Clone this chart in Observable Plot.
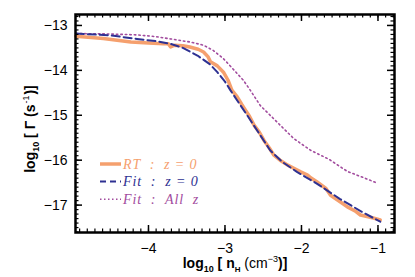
<!DOCTYPE html>
<html><head><meta charset="utf-8">
<script src="https://cdn.jsdelivr.net/npm/d3@7"></script>
<script src="https://cdn.jsdelivr.net/npm/@observablehq/plot@0.6"></script>
<style>body{margin:0;background:#fff}</style>
</head><body><div id="chart"></div>
<script>
// RT : z = 0 (orange)
const rtX = [-4.95,-4.59,-4.23,-4.0,-3.80,-3.74,-3.71,-3.66,-3.55,-3.46,-3.35,-3.28,-3.22,-3.19,-3.10,-3.02,-2.96,-2.91,-2.84,-2.78,-2.73,-2.68,-2.62,-2.55,-2.49,-2.42,-2.36,-2.28,-2.18,-2.10,-2.01,-1.92,-1.88,-1.80,-1.68,-1.62,-1.50,-1.40,-1.30,-1.23,-1.10,-0.97];
const rtY = [-13.24,-13.29,-13.37,-13.39,-13.41,-13.41,-13.48,-13.44,-13.45,-13.48,-13.53,-13.59,-13.70,-13.81,-13.90,-14.04,-14.22,-14.44,-14.59,-14.76,-14.89,-15.02,-15.22,-15.38,-15.56,-15.73,-15.89,-16.00,-16.11,-16.18,-16.26,-16.33,-16.39,-16.48,-16.63,-16.78,-16.92,-17.04,-17.13,-17.22,-17.27,-17.33];
// Fit : z = 0 (blue dashed)
const fitX = [-4.95,-4.5,-4.15,-3.9,-3.71,-3.55,-3.36,-3.20,-3.10,-3.00,-2.93,-2.84,-2.71,-2.54,-2.41,-2.25,-2.06,-1.80,-1.50,-1.20,-0.97];
const fitY = [-13.18,-13.22,-13.30,-13.35,-13.41,-13.50,-13.67,-13.86,-14.04,-14.25,-14.44,-14.67,-15.00,-15.44,-15.78,-16.04,-16.26,-16.52,-16.86,-17.16,-17.37];
// Fit : All z (purple dotted)
const allX = [-4.95,-4.5,-4.15,-3.9,-3.71,-3.45,-3.28,-3.15,-3.02,-2.90,-2.76,-2.67,-2.54,-2.32,-2.10,-1.88,-1.64,-1.40,-1.20,-1.01];
const allY = [-13.18,-13.19,-13.21,-13.25,-13.30,-13.37,-13.44,-13.56,-13.74,-13.96,-14.22,-14.44,-14.78,-15.15,-15.52,-15.78,-15.98,-16.25,-16.38,-16.51];

const xTicks = [-4,-3,-2,-1];
const yTicks = [-17,-16,-15,-14,-13];
const legendLabels = ["RT  :  z = 0", "Fit  :  z = 0", "Fit  :  All  z"];
const colors = ["#f5a06e", "#2e3192", "#a24c9e"];

const W = 415, H = 277, mL = 75, mR = 21, mT = 14, mB = 45;
const pH = H - mT - mB, pW = W - mL - mR;
const xMinor = d3.range(-49, -7).map(i => i / 10);
const yMinor = d3.range(-176, -127).map(i => i / 10);
const fmt = d => String(d).replace("-", "\u2212");

const zip = (xs, ys) => xs.map((x, i) => ({x, y: ys[i]}));
const rt = zip(rtX, rtY), fit = zip(fitX, fitY), all = zip(allX, allY);

const tk = (data, len, sw) => [
  Plot.ruleX(data, {x: d => d, insetTop: pH - len, stroke: "black", strokeWidth: sw}),
  Plot.ruleX(data, {x: d => d, insetBottom: pH - len, stroke: "black", strokeWidth: sw})
];
const tky = (data, len, sw) => [
  Plot.ruleY(data, {y: d => d, insetRight: pW - len, stroke: "black", strokeWidth: sw}),
  Plot.ruleY(data, {y: d => d, insetLeft: pW - len, stroke: "black", strokeWidth: sw})
];

const plot = Plot.plot({
  width: W, height: H,
  marginLeft: mL, marginRight: mR, marginTop: mT, marginBottom: mB,
  style: {fontFamily: "'Liberation Sans', Arial, sans-serif", fontSize: "14px", background: "white"},
  x: {domain: [-4.954, -0.784], label: null},
  y: {domain: [-17.61, -12.756], label: null},
  marks: [
    Plot.line(all, {x: "x", y: "y", stroke: colors[2], strokeWidth: 1.6, strokeDasharray: "1.5,3"}),
    Plot.line(rt, {x: "x", y: "y", stroke: colors[0], strokeWidth: 3.5, strokeLinejoin: "round"}),
    Plot.line(fit, {x: "x", y: "y", stroke: colors[1], strokeWidth: 2, strokeDasharray: "8,4"}),
    ...tk(xMinor, 3.5, 1.2), ...tk(xTicks, 7, 1.5),
    ...tky(yMinor, 3.5, 1.2), ...tky(yTicks, 7, 1.5),
    Plot.frame({stroke: "black", strokeWidth: 2.5}),
    Plot.axisX({ticks: xTicks, tickSize: 0, tickPadding: 11, fontSize: 14, fill: "black", tickFormat: fmt}),
    Plot.axisY({ticks: yTicks, tickSize: 0, tickPadding: 8, fontSize: 14, fill: "black", tickFormat: fmt})
  ]
});
document.getElementById("chart").appendChild(plot);

const svg = d3.select(plot);
// axis titles
const xt = svg.append("text").attr("x", 235).attr("y", 268).attr("text-anchor", "middle")
  .attr("font-family", "'Liberation Sans', Arial, sans-serif").attr("font-size", 14).attr("font-weight", "bold");
xt.append("tspan").text("log");
xt.append("tspan").attr("font-size", 9).attr("dy", 4).text("10");
xt.append("tspan").attr("dy", -4).text(" [ n");
xt.append("tspan").attr("font-size", 8).attr("dy", 4).text("H");
xt.append("tspan").attr("dy", -4).attr("font-weight", "normal").text(" (cm");
xt.append("tspan").attr("font-size", 9).attr("dy", -6).attr("font-weight", "normal").text("\u22123");
xt.append("tspan").attr("dy", 6).text(")]");

const yt = svg.append("text").attr("transform", "translate(35,129) rotate(-90)").attr("text-anchor", "middle")
  .attr("font-family", "'Liberation Sans', Arial, sans-serif").attr("font-size", 14).attr("font-weight", "bold");
yt.append("tspan").text("log");
yt.append("tspan").attr("font-size", 9).attr("dy", 4).text("10");
yt.append("tspan").attr("dy", -4).text(" [ \u0393 (s");
yt.append("tspan").attr("font-size", 9).attr("dy", -6).attr("dx", 1).attr("font-weight", "normal").text("-1");
yt.append("tspan").attr("dy", 6).attr("dx", 1).text(")]");

// legend
const styles = [{w: 3.5, d: null}, {w: 2, d: "6,4"}, {w: 1.6, d: "1.5,2.5"}];
legendLabels.forEach((lab, i) => {
  const y = 164 + i * 17.6;
  svg.append("line").attr("x1", 100).attr("x2", 121).attr("y1", y).attr("y2", y)
    .attr("stroke", colors[i]).attr("stroke-width", styles[i].w).attr("stroke-dasharray", styles[i].d);
  svg.append("text").attr("x", 123).attr("y", y + 4.5).attr("fill", colors[i]).attr("text-anchor", "start")
    .attr("font-family", "'Liberation Serif', 'Times New Roman', serif").attr("font-style", "italic")
    .attr("font-size", 14).attr("letter-spacing", 0.9)
    .attr("xml:space", "preserve").style("white-space", "pre").text(lab);
});
</script>
</body></html>
